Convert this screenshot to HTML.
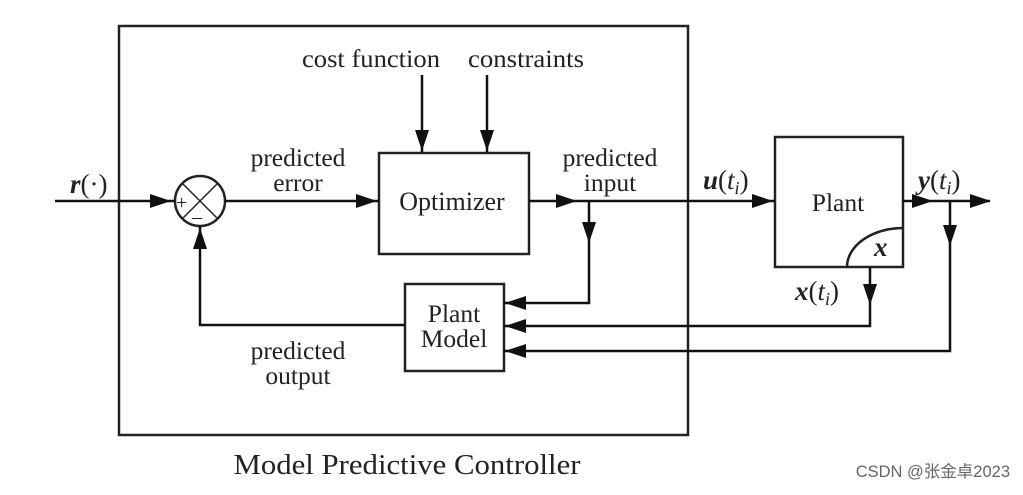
<!DOCTYPE html>
<html><head><meta charset="utf-8"><style>
body{margin:0;background:#fff;}
svg text{font-family:"Liberation Serif",serif;fill:#222;}
</style></head><body>
<svg width="1023" height="490" viewBox="0 0 1023 490" xmlns="http://www.w3.org/2000/svg">
<g fill="none" stroke="#222" stroke-width="2.5">
<rect x="119" y="26" width="569" height="409"/>
<rect x="379" y="153" width="150" height="101"/>
<rect x="405" y="284" width="99" height="87"/>
<rect x="775" y="137" width="128" height="130"/>
<path d="M847,267 A56,39 0 0 1 903,228"/>
<circle cx="200" cy="201" r="25"/>
<line x1="182" y1="183" x2="218" y2="219" stroke-width="1.5"/>
<line x1="218" y1="183" x2="182" y2="219" stroke-width="1.5"/>
</g>
<g stroke="#111" stroke-width="2.5" fill="none">
<line x1="55" y1="201" x2="175" y2="201"/>
<path d="M150,194 L171,201 L150,208 Z" fill="#111" stroke="none"/>
<line x1="225" y1="201" x2="379" y2="201"/>
<path d="M356,194 L377,201 L356,208 Z" fill="#111" stroke="none"/>
<line x1="422" y1="75" x2="422" y2="152"/>
<path d="M415,130 L422,151 L429,130 Z" fill="#111" stroke="none"/>
<line x1="487" y1="75" x2="487" y2="152"/>
<path d="M480,130 L487,151 L494,130 Z" fill="#111" stroke="none"/>
<line x1="529" y1="201" x2="775" y2="201"/>
<path d="M556,194 L577,201 L556,208 Z" fill="#111" stroke="none"/>
<path d="M752,194 L773,201 L752,208 Z" fill="#111" stroke="none"/>
<polyline points="589,201 589,303 504,303"/>
<path d="M582,222 L589,243 L596,222 Z" fill="#111" stroke="none"/>
<path d="M526,296 L505,303 L526,310 Z" fill="#111" stroke="none"/>
<polyline points="405,325 200,325 200,226"/>
<path d="M193,249 L200,228 L207,249 Z" fill="#111" stroke="none"/>
<line x1="903" y1="201" x2="990" y2="201"/>
<path d="M912,194 L933,201 L912,208 Z" fill="#111" stroke="none"/>
<path d="M970,194 L991,201 L970,208 Z" fill="#111" stroke="none"/>
<polyline points="950,201 950,351 504,351"/>
<path d="M943,225 L950,246 L957,225 Z" fill="#111" stroke="none"/>
<path d="M526,344 L505,351 L526,358 Z" fill="#111" stroke="none"/>
<polyline points="870,267 870,326 504,326"/>
<path d="M863,284 L870,305 L877,284 Z" fill="#111" stroke="none"/>
<path d="M526,319 L505,326 L526,333 Z" fill="#111" stroke="none"/>
</g>
<g font-size="25.5" text-anchor="middle">
<text x="371" y="67" textLength="138" lengthAdjust="spacingAndGlyphs">cost function</text>
<text x="526" y="67" textLength="116" lengthAdjust="spacingAndGlyphs">constraints</text>
<text x="298" y="166">predicted</text>
<text x="298" y="191">error</text>
<text x="610" y="166">predicted</text>
<text x="610" y="191">input</text>
<text x="452" y="210" font-size="26">Optimizer</text>
<text x="454" y="322">Plant</text>
<text x="454" y="347">Model</text>
<text x="838" y="211">Plant</text>
<text x="298" y="359">predicted</text>
<text x="298" y="384">output</text>
<text x="407" y="474" font-size="28" textLength="347" lengthAdjust="spacingAndGlyphs">Model Predictive Controller</text>
</g>
<g font-size="27">
<text x="70" y="193"><tspan font-weight="bold" font-style="italic">r</tspan>(·)</text>
<text x="703" y="189"><tspan font-weight="bold" font-style="italic">u</tspan>(<tspan font-style="italic">t</tspan><tspan font-style="italic" font-size="18" dy="5">i</tspan><tspan dy="-5">)</tspan></text>
<text x="918" y="189"><tspan font-weight="bold" font-style="italic">y</tspan>(<tspan font-style="italic">t</tspan><tspan font-style="italic" font-size="18" dy="5">i</tspan><tspan dy="-5">)</tspan></text>
<text x="795" y="300"><tspan font-weight="bold" font-style="italic">x</tspan>(<tspan font-style="italic">t</tspan><tspan font-style="italic" font-size="18" dy="5">i</tspan><tspan dy="-5">)</tspan></text>
<text x="874" y="256" font-weight="bold" font-style="italic">x</text>
<text x="176" y="209" font-size="20">+</text>
<text x="192" y="223" font-size="20">–</text>
</g>
<text x="1010" y="477" text-anchor="end" font-size="16.5" style="font-family:'Liberation Sans','Noto Sans CJK SC',sans-serif;fill:#666">CSDN @张金卓2023</text>
</svg>
</body></html>
